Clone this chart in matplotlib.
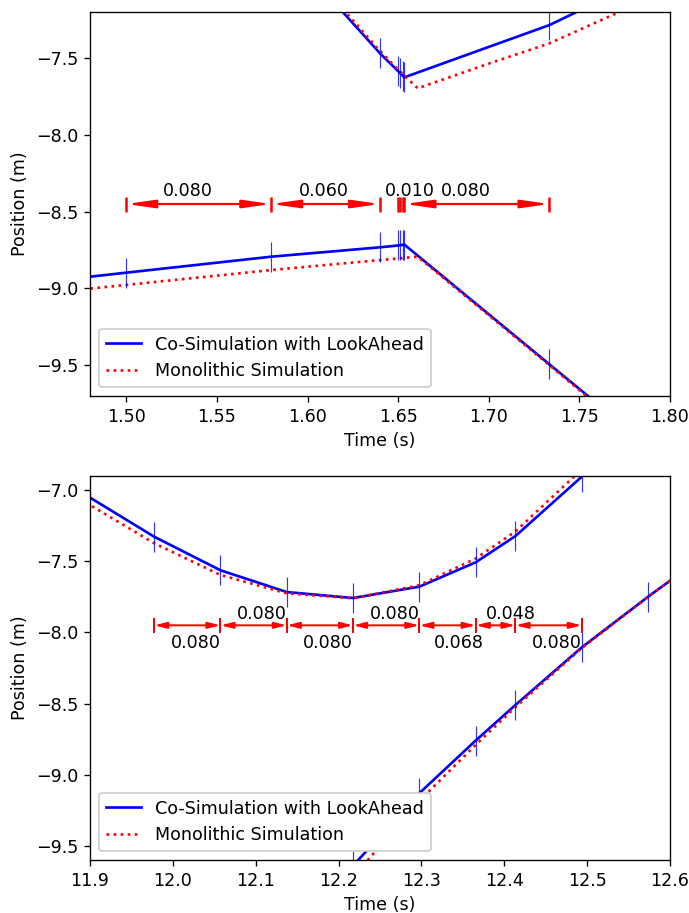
import numpy as np
import matplotlib
matplotlib.use('Agg')
import matplotlib.pyplot as plt

plt.rcParams['font.size'] = 10.5

# ---- top panel (around t = 1.65 s) ----
cosim_t_top = [1.42, 1.50, 1.58, 1.64, 1.65, 1.6513, 1.6525, 1.6535, 1.7335, 1.8135]
cosim_up_top = [-5.0, -5.8, -6.683, -7.469, -7.585, -7.600, -7.614, -7.625, -7.285, -6.83]
cosim_lo_top = [-9.003, -8.897, -8.793, -8.732, -8.72, -8.718, -8.716, -8.715, -9.494, -10.27]

mono_t_up_top = [1.58, 1.621, 1.64, 1.65, 1.6608, 1.70, 1.7335, 1.772, 1.80]
mono_up_top = [-6.70, -7.20, -7.455, -7.575, -7.697, -7.536, -7.404, -7.20, -7.05]
mono_t_lo_top = [1.42, 1.48, 1.50, 1.58, 1.64, 1.6608, 1.7335, 1.76]
mono_lo_top = [-9.07, -9.001, -8.977, -8.88, -8.815, -8.793, -9.50, -9.76]

# step edges and labels (dimension arrows)
edges_top = [1.50, 1.58, 1.64, 1.65, 1.6513, 1.6525, 1.6535, 1.7335]
steps_top = [(1.50, 1.58, '0.080'), (1.58, 1.64, '0.060'),
             (1.64, 1.65, '0.010'), (1.6535, 1.7335, '0.080')]

# ---- bottom panel (around t = 12.2 s) ----
cosim_t_bot = [11.8975, 11.9775, 12.0575, 12.1375, 12.2175, 12.2975,
               12.3655, 12.4135, 12.4935, 12.5735, 12.6535]
cosim_up_bot = [-7.043, -7.327, -7.563, -7.716, -7.758, -7.678,
                -7.507, -7.322, -6.905, -6.38, -5.7]
cosim_lo_bot = [-11.2, -10.7, -10.5, -10.15, -9.64, -9.13,
                -8.76, -8.51, -8.105, -7.749, -7.41]

mono_t_up_bot = [11.88, 11.90, 11.9775, 12.0575, 12.1375, 12.2175,
                 12.2975, 12.3655, 12.4135, 12.485, 12.50]
mono_up_bot = [-7.04, -7.104, -7.373, -7.596, -7.725, -7.76,
               -7.668, -7.48, -7.29, -6.90, -6.82]
mono_t_lo_bot = [12.20, 12.2354, 12.30, 12.3655, 12.4135, 12.4935, 12.5735, 12.62]
mono_lo_bot = [-9.82, -9.60, -9.17, -8.79, -8.525, -8.11, -7.75, -7.55]

edges_bot = [11.9775, 12.0575, 12.1375, 12.2175, 12.2975, 12.3655, 12.4135, 12.4935]
steps_bot = ['0.080', '0.080', '0.080', '0.080', '0.068', '0.048', '0.080']

fig = plt.figure(figsize=(689 / 120, 913 / 120), dpi=120)
ax1 = fig.add_axes([90 / 689, 1 - 396 / 913, 580 / 689, 384 / 913])
ax2 = fig.add_axes([90 / 689, 1 - 860 / 913, 580 / 689, 384 / 913])


def draw_curves(ax, t, up, lo, tmu, mu, tml, ml):
    ax.plot(t, up, color='blue', lw=1.6, label='Co-Simulation with LookAhead')
    ax.plot(tmu, mu, color='red', lw=1.6, ls=':', label='Monolithic Simulation')
    ax.plot(t, lo, color='blue', lw=1.6)
    ax.plot(tml, ml, color='red', lw=1.6, ls=':')
    # step markers
    ax.plot(t, up, ls='none', marker='|', ms=18, mew=0.7, color='blue', alpha=0.8)
    ax.plot(t, lo, ls='none', marker='|', ms=18, mew=0.7, color='blue', alpha=0.8)


draw_curves(ax1, cosim_t_top, cosim_up_top, cosim_lo_top,
            mono_t_up_top, mono_up_top, mono_t_lo_top, mono_lo_top)
draw_curves(ax2, cosim_t_bot, cosim_up_bot, cosim_lo_bot,
            mono_t_up_bot, mono_up_bot, mono_t_lo_bot, mono_lo_bot)

# top dimension arrows
ya = -8.45
ax1.plot(edges_top, [ya] * len(edges_top), ls='none', marker='|', ms=9, mew=1.5, color='red')
for t0, t1, lab in steps_top:
    if t1 - t0 > 0.02:
        ax1.annotate('', xy=(t0, ya), xytext=(t1, ya),
                     arrowprops=dict(arrowstyle='<|-|>,head_length=1.4,head_width=0.2',
                                     color='red', lw=1.3, shrinkA=0, shrinkB=0,
                                     mutation_scale=10))
    ax1.text(t0 + (t1 - t0) / 4, ya + 0.05, lab, ha='left', va='baseline')

# bottom dimension arrows
yb = -7.95
ax2.plot(edges_bot, [yb] * len(edges_bot), ls='none', marker='|', ms=9, mew=1.2, color='red')
for i, lab in enumerate(steps_bot):
    t0, t1 = edges_bot[i], edges_bot[i + 1]
    ax2.annotate('', xy=(t0, yb), xytext=(t1, yb),
                 arrowprops=dict(arrowstyle='<|-|>,head_length=0.6,head_width=0.15',
                                 color='red', lw=1.2, shrinkA=0, shrinkB=0,
                                 mutation_scale=10))
    if i % 2 == 0:
        ax2.text(t0 + (t1 - t0) / 4, yb - 0.157, lab, ha='left', va='baseline')
    else:
        ax2.text(t0 + (t1 - t0) / 4, yb + 0.042, lab, ha='left', va='baseline')

ax1.set_xlim(1.48, 1.80)
ax1.set_ylim(-9.7, -7.2)
ax2.set_xlim(11.9, 12.6)
ax2.set_ylim(-9.6, -6.9)

for ax in (ax1, ax2):
    ax.set_xlabel('Time (s)')
    ax.set_ylabel('Position (m)')
    ax.legend(loc='lower left', framealpha=1)

fig.savefig('out.png', dpi=120)
